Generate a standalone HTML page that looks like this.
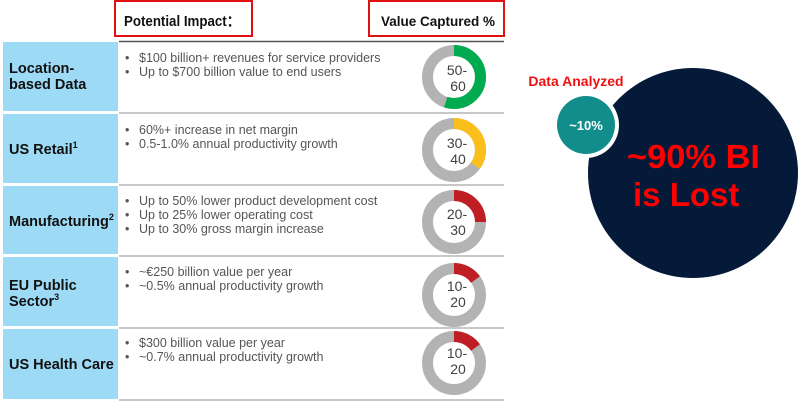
<!DOCTYPE html>
<html><head><meta charset="utf-8"><style>
body{margin:0;background:#fff;width:800px;height:401px;overflow:hidden}
svg{display:block}
text{font-family:"Liberation Sans","DejaVu Sans",sans-serif}
</style></head><body>
<svg width="800" height="401" xmlns="http://www.w3.org/2000/svg">
<rect x="115" y="1" width="137" height="35" fill="none" stroke="#e01010" stroke-width="2"/>
<text x="124" y="26" font-size="15" font-weight="bold" fill="#111" textLength="116" lengthAdjust="spacingAndGlyphs">Potential Impact：</text>
<rect x="369" y="1" width="135" height="35" fill="none" stroke="#e01010" stroke-width="2"/>
<text x="381" y="26" font-size="14" font-weight="bold" fill="#111" textLength="114" lengthAdjust="spacingAndGlyphs">Value Captured %</text>
<line x1="119" y1="41.5" x2="504" y2="41.5" stroke="#555" stroke-width="1.5"/>
<g fill="#9ddaf5">
<rect x="3" y="42" width="115" height="69"/>
<rect x="3" y="114" width="115" height="69"/>
<rect x="3" y="186" width="115" height="68"/>
<rect x="3" y="257" width="115" height="69"/>
<rect x="3" y="329" width="115" height="70"/>
</g>
<g stroke="#c8c8c8" stroke-width="2">
<line x1="119" y1="113" x2="504" y2="113"/>
<line x1="119" y1="185" x2="504" y2="185"/>
<line x1="119" y1="256" x2="504" y2="256"/>
<line x1="119" y1="328" x2="504" y2="328"/>
<line x1="119" y1="400" x2="504" y2="400"/>
</g>
<g font-size="14.5" font-weight="bold" fill="#111">
<text x="9" y="73">Location-</text><text x="9" y="89">based Data</text>
<text x="9" y="154">US Retail<tspan font-size="9" dy="-6">1</tspan></text>
<text x="9" y="226">Manufacturing<tspan font-size="9" dy="-6">2</tspan></text>
<text x="9" y="290">EU Public</text><text x="9" y="306">Sector<tspan font-size="9" dy="-6">3</tspan></text>
<text x="9" y="369">US Health Care</text>
</g>
<g font-size="12.5" fill="#555">
<text x="125" y="62">•</text><text x="139" y="62">$100 billion+ revenues for service providers</text>
<text x="125" y="76">•</text><text x="139" y="76">Up to $700 billion value to end users</text>
<text x="125" y="134">•</text><text x="139" y="134">60%+ increase in net margin</text>
<text x="125" y="148">•</text><text x="139" y="148">0.5-1.0% annual productivity growth</text>
<text x="125" y="205">•</text><text x="139" y="205">Up to 50% lower product development cost</text>
<text x="125" y="219">•</text><text x="139" y="219">Up to 25% lower operating cost</text>
<text x="125" y="233">•</text><text x="139" y="233">Up to 30% gross margin increase</text>
<text x="125" y="276">•</text><text x="139" y="276">~€250 billion value per year</text>
<text x="125" y="290">•</text><text x="139" y="290">~0.5% annual productivity growth</text>
<text x="125" y="347">•</text><text x="139" y="347">$300 billion value per year</text>
<text x="125" y="361">•</text><text x="139" y="361">~0.7% annual productivity growth</text>
</g>
<g fill="none" stroke-width="11">
<circle cx="454" cy="77" r="26.5" stroke="#b3b3b3"/>
<circle cx="454" cy="77" r="26.5" stroke="#00aa4f" stroke-dasharray="91.6 200" transform="rotate(-90 454 77)"/>
<circle cx="454" cy="150" r="26.5" stroke="#b3b3b3"/>
<circle cx="454" cy="150" r="26.5" stroke="#fbbf1c" stroke-dasharray="58.3 200" transform="rotate(-90 454 150)"/>
<circle cx="454" cy="222" r="26.5" stroke="#b3b3b3"/>
<circle cx="454" cy="222" r="26.5" stroke="#be1e24" stroke-dasharray="41.6 200" transform="rotate(-90 454 222)"/>
<circle cx="454" cy="295" r="26.5" stroke="#b3b3b3"/>
<circle cx="454" cy="295" r="26.5" stroke="#be1e24" stroke-dasharray="25 200" transform="rotate(-90 454 295)"/>
<circle cx="454" cy="363" r="26.5" stroke="#b3b3b3"/>
<circle cx="454" cy="363" r="26.5" stroke="#be1e24" stroke-dasharray="25 200" transform="rotate(-90 454 363)"/>
</g>
<g font-size="14" fill="#404040" text-anchor="middle">
<text x="457" y="75">50-</text><text x="458" y="91">60</text>
<text x="457" y="148">30-</text><text x="458" y="164">40</text>
<text x="457" y="219">20-</text><text x="458" y="235">30</text>
<text x="457" y="291">10-</text><text x="458" y="307">20</text>
<text x="457" y="358">10-</text><text x="458" y="374">20</text>
</g>
<circle cx="693" cy="173" r="105" fill="#041a38"/>
<circle cx="586" cy="125" r="33" fill="#fff"/>
<circle cx="586" cy="125" r="29" fill="#118e8c"/>
<text x="586" y="130" font-size="13" font-weight="bold" fill="#fff" text-anchor="middle">~10%</text>
<text x="576" y="86" font-size="14" font-weight="bold" fill="#ee1111" text-anchor="middle">Data Analyzed</text>
<text x="627" y="168" font-size="33" font-weight="bold" fill="#ff0000" textLength="133" lengthAdjust="spacingAndGlyphs">~90% BI</text>
<text x="633" y="206" font-size="33" font-weight="bold" fill="#ff0000">is Lost</text>
</svg>
</body></html>
